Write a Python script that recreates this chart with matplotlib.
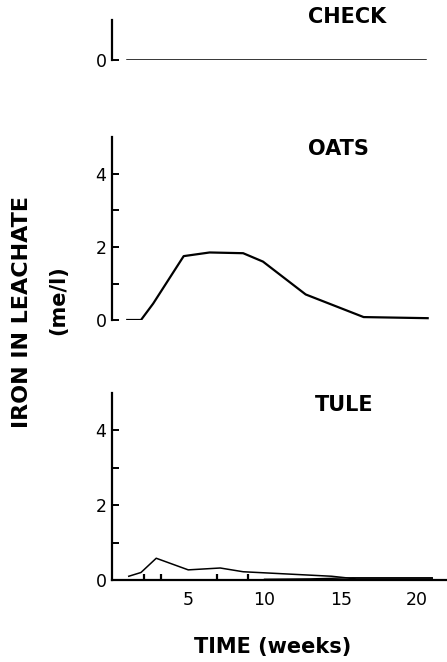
import matplotlib
matplotlib.use("Agg")
import matplotlib.pyplot as plt

# Data
check_weeks = [1.0, 20.6]
check_iron = [0.0, 0.0]

oats_weeks = [1.0, 1.9, 2.7, 4.7, 6.4, 8.6, 9.9, 12.7, 16.5, 20.7]
oats_iron = [0.0, 0.0, 0.45, 1.75, 1.85, 1.83, 1.6, 0.7, 0.08, 0.05]

tule_weeks = [1.1, 1.9, 2.9, 5.0, 7.1, 8.6, 14.4, 16.0, 21.0]
tule_iron = [0.1, 0.2, 0.58, 0.27, 0.32, 0.22, 0.1, 0.03, 0.03]

tule_low_weeks = [10.0, 13.0, 15.8, 21.0]
tule_low_iron = [0.02, 0.03, 0.06, 0.06]

sample_weeks = [2.1, 3.2, 5.0, 6.9, 8.9, 10.0]
x_ticks = [5, 10, 15, 20]
y_ticks = [0, 2, 4]
y_minor = [1, 3]

W, H = 447, 662
fig = plt.figure(figsize=(W / 100, H / 100), dpi=100)

x0px = 112
left = x0px / W
width = 1.0 - left
xlim = (0, (W - x0px) / 15.25)

def fy(px):
    return (H - px) / H

def fx(px):
    return px / W

lw_sp = 1.6
tick_fs = 12.5
title_fs = 15

# CHECK panel
ax_c = fig.add_axes([left, fy(60), width, (60 - 20) / H])
ax_c.plot(check_weeks, check_iron, color="black", lw=1.1)
ax_c.set_xlim(*xlim)
ax_c.set_ylim(0, 1)
for s in ["top", "right", "bottom"]:
    ax_c.spines[s].set_visible(False)
ax_c.spines["left"].set_linewidth(lw_sp)
ax_c.set_xticks([])
ax_c.set_yticks([0])
ax_c.tick_params(axis="y", direction="in", length=5, width=1.4, labelsize=tick_fs, pad=4)
ax_c.patch.set_alpha(0)
fig.text(fx(347), fy(17), "CHECK", fontsize=title_fs, fontweight="bold", ha="center", va="center")

# OATS panel
ax_o = fig.add_axes([left, fy(320), width, (320 - 137.5) / H])
ax_o.plot(oats_weeks, oats_iron, color="black", lw=1.6)
ax_o.set_xlim(*xlim)
ax_o.set_ylim(0, 5)
for s in ["top", "right", "bottom"]:
    ax_o.spines[s].set_visible(False)
ax_o.spines["left"].set_linewidth(lw_sp)
ax_o.set_xticks([])
ax_o.set_yticks(y_ticks)
ax_o.set_yticks(y_minor, minor=True)
ax_o.tick_params(axis="y", which="both", direction="in", length=5, width=1.4, labelsize=tick_fs, pad=4)
ax_o.patch.set_alpha(0)
fig.text(fx(338), fy(149), "OATS", fontsize=title_fs, fontweight="bold", ha="center", va="center")

# TULE panel
ax_t = fig.add_axes([left, fy(580), width, (580 - 392.5) / H])
ax_t.plot(tule_weeks, tule_iron, color="black", lw=1.1)
ax_t.plot(tule_low_weeks, tule_low_iron, color="black", lw=1.0)
ax_t.set_xlim(*xlim)
ax_t.set_ylim(0, 5)
for s in ["top", "right"]:
    ax_t.spines[s].set_visible(False)
ax_t.spines["left"].set_linewidth(lw_sp)
ax_t.spines["bottom"].set_linewidth(lw_sp)
ax_t.set_yticks(y_ticks)
ax_t.set_yticks(y_minor, minor=True)
ax_t.set_xticks(x_ticks)
ax_t.set_xticks(sample_weeks, minor=True)
ax_t.tick_params(axis="y", which="both", direction="in", length=5, width=1.4, labelsize=tick_fs, pad=4)
ax_t.tick_params(axis="x", which="major", direction="in", length=0, labelsize=tick_fs, pad=8)
ax_t.tick_params(axis="x", which="minor", direction="in", length=4, width=1.6)
ax_t.patch.set_alpha(0)
fig.text(fx(344), fy(405), "TULE", fontsize=title_fs, fontweight="bold", ha="center", va="center")

fig.text(fx(273), fy(647), "TIME (weeks)", fontsize=15, fontweight="bold",
         ha="center", va="center")
fig.text(fx(22), fy(312), "IRON IN LEACHATE", fontsize=16, fontweight="bold",
         rotation=90, ha="center", va="center")
fig.text(fx(58), fy(300), "(me/l)", fontsize=15, fontweight="bold",
         rotation=90, ha="center", va="center")

fig.savefig("out.png", dpi=100)
